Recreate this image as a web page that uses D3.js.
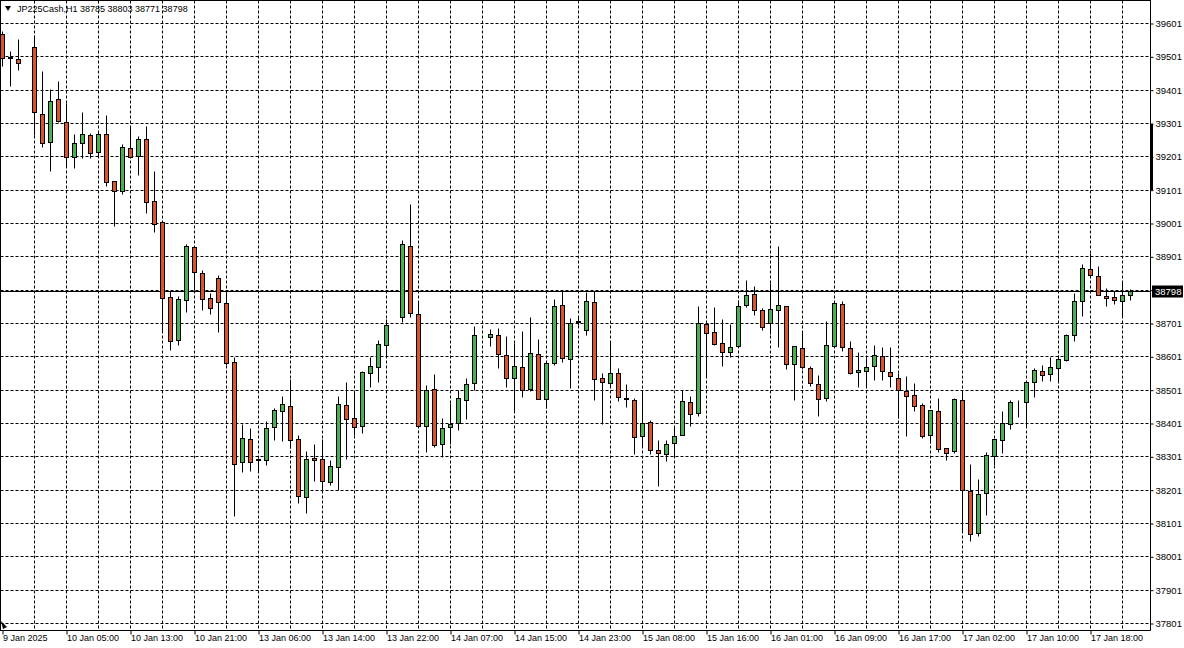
<!DOCTYPE html>
<html><head><meta charset="utf-8">
<script src="https://cdn.jsdelivr.net/npm/d3@7"></script>
<style>
html,body{margin:0;padding:0;background:#fff;}
svg{display:block;}
text{font-family:"Liberation Sans",Arial,sans-serif;}
</style></head>
<body>
<svg id="chart" width="1184" height="648"></svg>
<script>
// ---- data (JP225Cash, H1) ----
const symbolTitle = "JP225Cash,H1";
const lastBar = [38785, 38803, 38771, 38798];
const opens  = [39568,39498,39493,null,39529,39328,39244,39373,39304,39200,39241,39265,39214,39268,39127,39097,39226,39202,39253,39068,39004,38779,38651,38771,38929,38851,38776,38836,38761,38584,38283,38353,38293,38291,38389,38436,38453,38354,38179,38296,38293,38224,38269,38455,38416,38393,38551,38569,38634,null,38719,38931,38728,38391,38503,38338,38388,38401,38469,38521,null,38659,38666,38605,38536,38569,38503,38608,38474,38580,38754,38594,38704,38681,38764,38536,38521,38551,38476,38470,38361,38404,38320,38308,38341,38364,38463,38431,38699,38674,38641,38614,38631,38754,38788,38739,38701,38741,38751,38578,38626,38566,38518,38476,38631,38758,38626,38554,38557,38571,38602,38554,38536,38497,38485,38455,38364,38438,38326,38318,38470,38196,38071,38191,38301,38349,38398,38460,38464,38524,38556,38548,38566,38589,38666,38766,38864,38843,38783,38780,38766,38785];
const highs  = [39578,39518,39554,null,39566,39458,39404,39428,39361,39268,39334,39271,39275,39326,39127,39239,39289,39261,39291,39158,39004,38796,38781,38938,38933,38861,38791,38846,38801,38599,38398,38386,38296,38406,38445,38483,38533,38366,38318,38338,38354,38291,38483,38525,38496,38556,38599,38649,38713,null,38951,39059,38766,38516,38549,38416,38461,38499,38536,38693,null,38684,38686,38663,38641,38676,38718,38654,38581,38774,38798,38716,38720,38794,38798,38551,38648,38566,38518,38476,38496,38411,38351,38351,38391,38501,38483,38751,38699,38749,38714,38698,38771,38829,38813,38745,38821,38933,38751,38631,38676,38571,38546,38706,38764,38768,38646,38613,38596,38636,38629,38629,38551,38543,38521,38461,38441,38476,38326,38476,38496,38278,38233,38313,38353,38436,38471,38471,38524,38566,38576,38599,38606,38669,38791,38878,38910,38873,38806,38796,38826,38803];
const lows   = [39471,39411,39461,null,39266,39228,39156,39305,39171,39166,39196,39196,39201,39111,38991,39087,39199,39146,39031,38973,38676,38621,38636,38733,38801,38739,38728,38674,38575,38121,38254,38256,38256,38276,38351,38346,38326,38161,38131,38226,38201,38214,38199,38293,38364,38371,38508,38524,38601,null,38703,38719,38388,38313,38330,38298,38338,38381,38414,38501,null,38631,38566,38508,38436,38478,38496,38474,38446,38576,38583,38506,38694,38666,38471,38399,38511,38466,38448,38308,38328,38308,38211,38288,38301,38364,38391,38421,38539,38634,38571,38599,38631,38749,38726,38679,38669,38629,38563,38469,38563,38511,38421,38466,38628,38616,38548,38508,38508,38531,38531,38508,38416,38361,38436,38356,38341,38313,38291,38310,38076,38048,38061,38124,38276,38311,38383,38418,38391,38479,38526,38528,38526,38586,38648,38723,38840,38784,38753,38759,38723,38771];
const closes = [39496,39497,39481,null,39334,39241,39368,39308,39200,39241,39268,39211,39268,39124,39097,39229,39199,39253,39064,38998,38776,38646,38773,38933,38854,38773,38746,38764,38581,38278,38356,38283,38291,38386,38441,38458,38351,38183,38294,38290,38227,38273,38458,38413,38389,38554,38573,38639,38696,null,38938,38731,38391,38499,38335,38386,38398,38476,38518,38666,null,38668,38608,38536,38573,38500,38611,38474,38581,38751,38596,38701,38707,38768,38533,38524,38551,38479,38474,38359,38401,38320,38311,38338,38363,38467,38427,38701,38671,38638,38614,38629,38751,38786,38739,38689,38743,38755,38578,38631,38569,38521,38473,38634,38761,38629,38551,38561,38569,38605,38556,38541,38499,38481,38451,38361,38441,38323,38311,38473,38199,38068,38188,38304,38353,38401,38464,38462,38524,38559,38545,38569,38593,38666,38768,38866,38844,38784,38775,38769,38785,38798];
const priceTicks = [37801,37901,38001,38101,38201,38301,38401,38501,38601,38701,38801,38901,39001,39101,39201,39301,39401,39501,39601];
const timeTickIndex = [0,8,16,24,32,40,48,56,64,72,80,88,96,104,112,120,128,136];
const timeTickLabels = ["9 Jan 2025","10 Jan 05:00","10 Jan 13:00","10 Jan 21:00","13 Jan 06:00","13 Jan 14:00","13 Jan 22:00","14 Jan 07:00","14 Jan 15:00","14 Jan 23:00","15 Jan 08:00","15 Jan 16:00","16 Jan 01:00","16 Jan 09:00","16 Jan 17:00","17 Jan 02:00","17 Jan 10:00","17 Jan 18:00"];
const currentPrice = 38798;

// ---- layout ----
const W = 1184, H = 648;
const plotLeft = 0.5, plotRight = 1150.5, plotTop = 0.5, plotBottom = 630.5;
const UP = "#4caf50", DOWN = "#d9552d";

const svg = d3.select("#chart");
const bars = opens.map((o,i)=>({i, o, h:highs[i], l:lows[i], c:closes[i]}));

const x = d3.scaleLinear().domain([0, bars.length-1]).range([2.5, 2.5 + 8*(bars.length-1)]);
const y = d3.scaleLinear().domain([37801, 39601]).range([623.5, 23.5]);
const py = v => Math.round(y(v) - 0.5) + 0.5;

svg.append("rect").attr("width",W).attr("height",H).attr("fill","#fff");

// grid
const g = svg.append("g");
const vgrid = d3.range(4, bars.length, 4);
g.selectAll("line.vg").data(vgrid).enter().append("line")
  .attr("x1",d=>x(d)).attr("x2",d=>x(d)).attr("y1",plotTop).attr("y2",plotBottom)
  .attr("stroke","#000").attr("stroke-width",1).attr("stroke-dasharray","3,2");
g.selectAll("line.hg").data(priceTicks).enter().append("line")
  .attr("x1",plotLeft).attr("x2",plotRight).attr("y1",d=>py(d)).attr("y2",d=>py(d))
  .attr("stroke","#000").attr("stroke-width",1).attr("stroke-dasharray","3,2");

// current price line
svg.append("line").attr("x1",plotLeft).attr("x2",plotRight)
  .attr("y1",py(currentPrice)).attr("y2",py(currentPrice))
  .attr("stroke","#000").attr("stroke-width",1);

// candles
const cg = svg.append("g");
const valid = bars.filter(b=>b.o!==null);
cg.selectAll("line.wick").data(valid).enter().append("line")
  .attr("x1",d=>x(d.i)).attr("x2",d=>x(d.i))
  .attr("y1",d=>py(d.h)).attr("y2",d=>py(d.l))
  .attr("stroke","#000").attr("stroke-width",1);
cg.selectAll("rect.body").data(valid).enter().append("rect")
  .attr("x",d=>x(d.i)-2).attr("width",4)
  .attr("y",d=>py(Math.max(d.o,d.c)))
  .attr("height",d=>Math.max(0, py(Math.min(d.o,d.c)) - py(Math.max(d.o,d.c))))
  .attr("fill",d=>d.c>=d.o?UP:DOWN)
  .attr("stroke","#000").attr("stroke-width",1);

// frame
svg.append("line").attr("x1",plotLeft).attr("x2",plotLeft).attr("y1",0).attr("y2",plotBottom).attr("stroke","#000");
svg.append("line").attr("x1",0).attr("x2",plotRight).attr("y1",plotTop).attr("y2",plotTop).attr("stroke","#000");

// right axis
const yAxis = d3.axisRight(y).tickValues(priceTicks).tickSize(3).tickFormat(d3.format("d"));
const ya = svg.append("g").attr("transform",`translate(${plotRight},0)`).call(yAxis);
ya.select(".domain").attr("d",`M0,0V${plotBottom}`).attr("stroke","#000");
ya.selectAll(".tick line").attr("stroke","#000");
ya.selectAll(".tick text").attr("x",5).attr("font-size","9.5px").attr("fill","#000")
  .attr("font-family","'Liberation Sans',Arial,sans-serif");
svg.append("rect").attr("x",plotRight-0.5).attr("y",124).attr("width",3).attr("height",66).attr("fill","#000");

// current price label
const cpy = py(currentPrice);
svg.append("rect").attr("x",1152).attr("y",cpy-6).attr("width",31).attr("height",12).attr("fill","#000");
svg.append("text").attr("x",1155).attr("y",cpy+3.5).attr("font-size","9.5px").attr("fill","#fff").text(currentPrice);

// bottom axis
const xAxis = d3.axisBottom(x).tickValues(timeTickIndex).tickSize(4)
  .tickFormat((d,k)=>timeTickLabels[k]);
const xa = svg.append("g").attr("transform",`translate(0,${plotBottom})`).call(xAxis);
xa.select(".domain").attr("d",`M0,0H${plotRight}`).attr("stroke","#000");
xa.selectAll(".tick line").attr("stroke","#000");
xa.selectAll(".tick text").attr("text-anchor","start").attr("x",0).attr("y",4).attr("dy","0.71em")
  .attr("font-size","9px").attr("fill","#000")
  .attr("font-family","'Liberation Sans',Arial,sans-serif");

// header
svg.append("path").attr("d","M5,6 L11,6 L8,11 Z").attr("fill","#000");
svg.append("text").attr("x",17).attr("y",12).attr("font-size","9px").attr("fill","#000")
  .text(symbolTitle + "  " + lastBar.join(" "));

// corner marker
svg.append("path").attr("d","M1,621 L7,627 L3,629 Z").attr("fill","#000");
</script>
</body></html>
